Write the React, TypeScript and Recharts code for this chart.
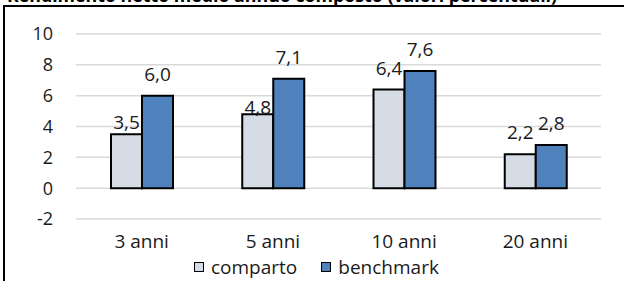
import { BarChart, Bar, XAxis, YAxis, CartesianGrid, Legend, LabelList } from 'recharts'

const categories = ['3 anni', '5 anni', '10 anni', '20 anni']
const comparto = [3.5, 4.8, 6.4, 2.2]
const benchmark = [6.0, 7.1, 7.6, 2.8]
const yTicks = [-2, 0, 2, 4, 6, 8, 10]

const TITLE = 'Rendimento netto medio annuo composto (valori percentuali)'
const FONT = '"Open Sans", Lato, sans-serif'
const INK = '#1a1a1a'

// how far above the bar top each label sits (Excel nudged the first two)
const compartoLift = [12, 7, 22, 22]
const benchmarkLift = [22, 22, 22, 22]

const COLORS = { comparto: '#D6DCE5', benchmark: '#4F81BD' }

const data = categories.map((name, i) => ({
  name,
  comparto: comparto[i],
  benchmark: benchmark[i],
}))

const fmt = (v: number) => v.toFixed(1).replace('.', ',')

function makeLabel(lift: number[]) {
  return (props: any) => {
    const { x, y, width, value, index } = props
    return (
      <text
        x={x + width / 2}
        y={y - lift[index]}
        textAnchor="middle"
        dominantBaseline="central"
        fontSize={19}
        fontFamily={FONT}
        fill={INK}
      >
        {fmt(value)}
      </text>
    )
  }
}

function LegendContent() {
  const items = [
    { label: 'comparto', color: COLORS.comparto },
    { label: 'benchmark', color: COLORS.benchmark },
  ]
  return (
    <div
      style={{
        display: 'flex',
        paddingLeft: 194,
        gap: 24,
        fontFamily: FONT,
        fontSize: 19,
        lineHeight: '20px',
        color: INK,
      }}
    >
      {items.map((it) => (
        <div key={it.label} style={{ display: 'flex', alignItems: 'center', gap: 7 }}>
          <span
            style={{
              display: 'inline-block',
              width: 8,
              height: 8,
              background: it.color,
              border: '1.5px solid #000',
            }}
          />
          <span>{it.label}</span>
        </div>
      ))}
    </div>
  )
}

export default function App() {
  return (
    <div
      style={{
        position: 'fixed',
        top: 0,
        left: 0,
        width: 624,
        height: 281,
        overflow: 'hidden',
        background: '#fff',
      }}
    >
      <svg width={624} height={10} style={{ position: 'absolute', top: 0, left: 0 }}>
        <text
          x={7}
          y={2}
          fontFamily={FONT}
          fontWeight="bold"
          fontSize={18}
          textLength={550}
          lengthAdjust="spacingAndGlyphs"
          fill="#000"
        >
          {TITLE}
        </text>
      </svg>
      <div
        style={{
          position: 'absolute',
          top: 5,
          left: 3,
          width: 640,
          height: 300,
          borderTop: '2px solid #000',
          borderLeft: '2px solid #000',
        }}
      />
      <div style={{ position: 'absolute', top: 0, left: 0 }}>
        <BarChart
          width={624}
          height={281}
          data={data}
          margin={{ top: 34, right: 23, left: 0, bottom: 12 }}
          barSize={31}
          barGap={0}
        >
          <CartesianGrid vertical={false} stroke="#d9d9d9" strokeWidth={1.5} />
          <XAxis
            dataKey="name"
            axisLine={false}
            tickLine={false}
            tickMargin={10}
            height={30}
            tick={{ fontSize: 19, fontFamily: FONT, fill: INK }}
          />
          <YAxis
            domain={[-2, 10]}
            ticks={yTicks}
            interval={0}
            axisLine={false}
            tickLine={false}
            tickMargin={17}
            width={76}
            tick={{ fontSize: 18, fontFamily: FONT, fill: INK }}
          />
          <Legend
            content={<LegendContent />}
            wrapperStyle={{ position: 'absolute', top: 257, left: 0, width: 624 }}
          />
          <Bar dataKey="comparto" fill={COLORS.comparto} stroke="#000" strokeWidth={2} isAnimationActive={false}>
            <LabelList dataKey="comparto" content={makeLabel(compartoLift)} />
          </Bar>
          <Bar dataKey="benchmark" fill={COLORS.benchmark} stroke="#000" strokeWidth={2} isAnimationActive={false}>
            <LabelList dataKey="benchmark" content={makeLabel(benchmarkLift)} />
          </Bar>
        </BarChart>
      </div>
    </div>
  )
}
